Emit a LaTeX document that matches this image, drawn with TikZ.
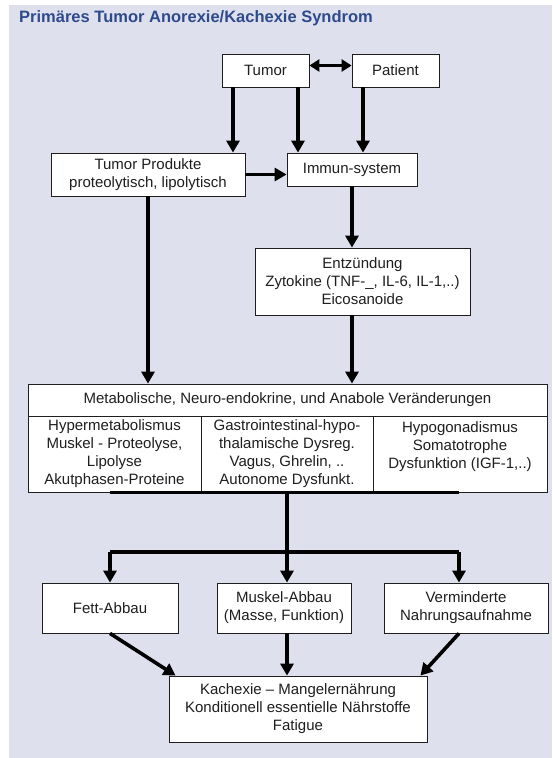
\documentclass[tikz,border=0pt]{standalone}
\usepackage{fontspec}
\setmainfont{Liberation Sans}
\usetikzlibrary{arrows.meta,calc,positioning}
\definecolor{bgblue}{RGB}{222,225,237}
\definecolor{titleblue}{RGB}{46,74,140}
\definecolor{ink}{RGB}{30,30,30}
\tikzstyle{box}=[draw=ink, fill=white, line width=0.8pt, inner sep=0pt, align=center, text=ink, font=\fontsize{15}{18}\selectfont]
\tikzstyle{l1}=[line width=3.6pt, draw=black]
\tikzstyle{arr}=[l1, -{Triangle[width=13pt,length=12pt]}]
\tikzstyle{arr2}=[line width=3pt, {Triangle[width=12pt,length=10pt]}-{Triangle[width=12pt,length=10pt]}]

\begin{document}
\begin{tikzpicture}[x=1pt, y=-1pt]
    \useasboundingbox (0,0) rectangle (552,758);
    \fill[bgblue] (9,5) rectangle (552,758);
    \node[anchor=base west, inner sep=0pt, text=titleblue, font=\fontsize{16.5}{19}\bfseries\selectfont] at (19,22) (title) {Primäres Tumor Anorexie/Kachexie Syndrom};

    \node[box, minimum width=87pt, minimum height=33pt] at (265.5,70.5) (tumor) {Tumor};
    \node[box, minimum width=87pt, minimum height=33pt] at (395.5,70.5) (patient) {Patient};
    \node[box, minimum width=194pt, minimum height=43pt] at (148,174.5) (prod) {Tumor Produkte\\proteolytisch, lipolytisch};
    \node[box, minimum width=130pt, minimum height=33pt] at (352,169.5) (immun) {Immun-system};
    \node[box, minimum width=215pt, minimum height=67pt] at (362.5,281.5) (entz) {Entzündung\\Zytokine (TNF-\_, IL-6, IL-1,..)\\Eicosanoide};

    \node[box, minimum width=519pt, minimum height=32pt] at (287.5,400) (meta) {Metabolische, Neuro-endokrine, und Anabole Veränderungen};
    \node[box, minimum width=173pt, minimum height=76pt] at (114.5,454) (m1) {Hypermetabolismus\\Muskel - Proteolyse,\\Lipolyse\\Akutphasen-Proteine};
    \node[box, minimum width=172pt, minimum height=76pt] at (287,454) (m2) {Gastrointestinal-hypo-\\thalamische Dysreg.\\Vagus, Ghrelin, ..\\Autonome Dysfunkt.};
    \node[box, minimum width=174pt, minimum height=76pt] at (460,454) (m3) {Hypogonadismus\\Somatotrophe\\Dysfunktion (IGF-1,..)\\\mbox{}};

    \node[box, minimum width=136pt, minimum height=50pt] at (110,608) (fett) {Fett-Abbau};
    \node[box, minimum width=134pt, minimum height=50pt] at (284,608) (muskel) {Muskel-Abbau\\(Masse, Funktion)};
    \node[box, minimum width=164pt, minimum height=50pt] at (466,608) (verm) {Verminderte\\Nahrungsaufnahme};
    \node[box, minimum width=258pt, minimum height=66pt] at (298,709) (kach) {Kachexie -- Mangelernährung\\Konditionell essentielle Nährstoffe\\Fatigue};

    \coordinate (t1) at (233,0);
    \coordinate (t2) at (298,0);
    \coordinate (p1) at (363,0);
    \coordinate (vx) at (459,0);
    \coordinate (fork) at (287,552);

    \draw[arr2] ([yshift=5pt]tumor.east) -- ([yshift=5pt]patient.west);
    \draw[arr] (tumor.south -| t1) -- (prod.north -| t1);
    \draw[arr] (tumor.south -| t2) -- (immun.north -| t2);
    \draw[arr] (patient.south -| p1) -- (immun.north -| p1);
    \draw[arr] (prod.east) -- (prod.east -| immun.west);
    \draw[arr] (immun.south) -- (immun.south |- entz.north);
    \draw[arr] (immun.south |- entz.south) -- (immun.south |- meta.north);
    \draw[arr] (prod.south) -- (prod.south |- meta.north);

    \draw[l1] (m1.south -| fett.north) -- (m3.south -| vx);
    \draw[l1] (m2.south) -- (fork);
    \draw[l1] (fork -| fett.north) -- (fork -| vx);
    \draw[arr] (fork -| fett.north) -- (fett.north);
    \draw[arr] (fork) -- (fork |- muskel.north);
    \draw[arr] (fork -| vx) -- (vx |- verm.north);

    \draw[arr] (fett.south) -- ([xshift=7pt]kach.north west);
    \draw[arr] (fork |- muskel.south) -- (fork |- kach.north);
    \draw[arr] (vx |- verm.south) -- ([xshift=-7pt]kach.north east);
\end{tikzpicture}
\end{document}
